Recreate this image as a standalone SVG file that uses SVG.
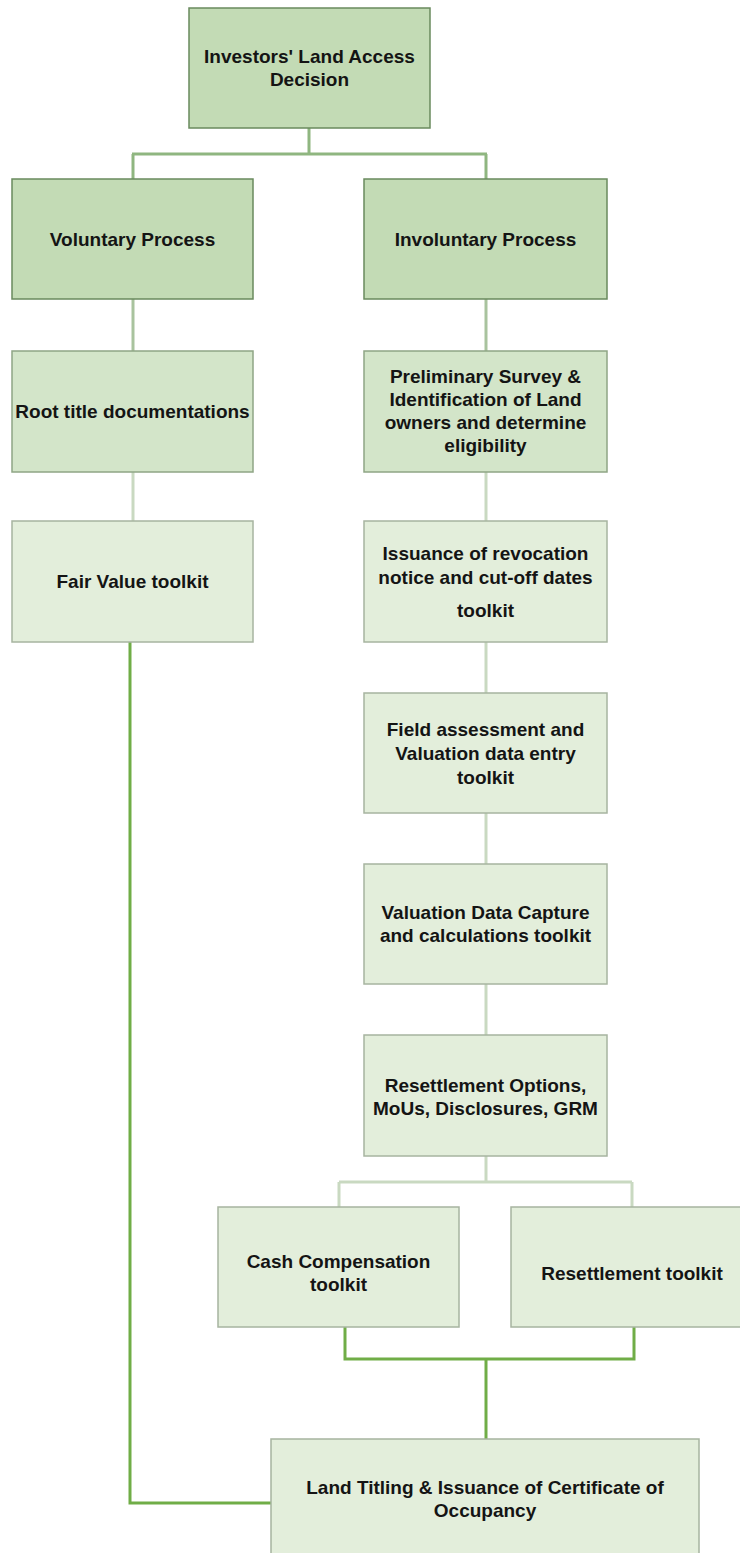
<svg xmlns="http://www.w3.org/2000/svg" width="740" height="1553" viewBox="0 0 740 1553">
<style>
  .n1 { fill: #c3dbb5; stroke: #6a8a5e; stroke-width: 1.5; }
  .n2 { fill: #d3e5c9; stroke: #8fa585; stroke-width: 1.5; }
  .n3 { fill: #e3eedb; stroke: #a7b4a0; stroke-width: 1.5; }
  .t { font-family: "Liberation Sans", Arial, sans-serif; font-weight: bold; font-size: 19px; fill: #141414; text-anchor: middle; }
  .c1 { fill: none; stroke: #8fb680; stroke-width: 3; }
  .c2 { fill: none; stroke: #a9c39e; stroke-width: 3; }
  .c3 { fill: none; stroke: #c9d9c1; stroke-width: 3; }
  .c4 { fill: none; stroke: #70ad47; stroke-width: 3; }
</style>
<rect width="740" height="1553" fill="#ffffff"/>
<g id="connectors">
  <path class="c1" d="M309 128 V154 M132 154 H487 M133 154 V179 M486 154 V179"/>
  <path class="c2" d="M133 299 V351 M486 299 V351"/>
  <path class="c3" d="M133 472 V521 M486 472 V521 M486 642 V693 M486 813 V864 M486 984 V1035"/>
  <path class="c3" d="M486 1156 V1182 M339 1182 H632 M339 1182 V1207 M632 1182 V1207"/>
  <path class="c4" d="M345 1327 V1359 H634 V1327 M486 1359 V1439"/>
  <path class="c4" d="M130 642 V1503 H271"/>
</g>
<g id="n-investors">
  <rect class="n1" x="189" y="8" width="241" height="120"/>
  <text class="t" x="309.5" y="63">Investors' Land Access</text>
  <text class="t" x="309.5" y="86">Decision</text>
</g>
<g id="n-voluntary">
  <rect class="n1" x="12" y="179" width="241" height="120"/>
  <text class="t" x="132.5" y="246">Voluntary Process</text>
</g>
<g id="n-involuntary">
  <rect class="n1" x="364" y="179" width="243" height="120"/>
  <text class="t" x="485.5" y="246">Involuntary Process</text>
</g>
<g id="n-root-title">
  <rect class="n2" x="12" y="351" width="241" height="121"/>
  <text class="t" x="132.5" y="418">Root title documentations</text>
</g>
<g id="n-preliminary">
  <rect class="n2" x="364" y="351" width="243" height="121"/>
  <text class="t" x="485.5" y="383">Preliminary Survey &amp;</text>
  <text class="t" x="485.5" y="406">Identification of Land</text>
  <text class="t" x="485.5" y="429">owners and determine</text>
  <text class="t" x="485.5" y="452">eligibility</text>
</g>
<g id="n-fair-value">
  <rect class="n3" x="12" y="521" width="241" height="121"/>
  <text class="t" x="132.5" y="588">Fair Value toolkit</text>
</g>
<g id="n-issuance">
  <rect class="n3" x="364" y="521" width="243" height="121"/>
  <text class="t" x="485.5" y="560">Issuance of revocation</text>
  <text class="t" x="485.5" y="584">notice and cut-off dates</text>
  <text class="t" x="485.5" y="617">toolkit</text>
</g>
<g id="n-field">
  <rect class="n3" x="364" y="693" width="243" height="120"/>
  <text class="t" x="485.5" y="736">Field assessment and</text>
  <text class="t" x="485.5" y="760">Valuation data entry</text>
  <text class="t" x="485.5" y="784">toolkit</text>
</g>
<g id="n-valuation">
  <rect class="n3" x="364" y="864" width="243" height="120"/>
  <text class="t" x="485.5" y="919">Valuation Data Capture</text>
  <text class="t" x="485.5" y="942">and calculations toolkit</text>
</g>
<g id="n-resettlement-options">
  <rect class="n3" x="364" y="1035" width="243" height="121"/>
  <text class="t" x="485.5" y="1092">Resettlement Options,</text>
  <text class="t" x="485.5" y="1115">MoUs, Disclosures, GRM</text>
</g>
<g id="n-cash">
  <rect class="n3" x="218" y="1207" width="241" height="120"/>
  <text class="t" x="338.5" y="1268">Cash Compensation</text>
  <text class="t" x="338.5" y="1291">toolkit</text>
</g>
<g id="n-resettlement">
  <rect class="n3" x="511" y="1207" width="242" height="120"/>
  <text class="t" x="632" y="1280">Resettlement toolkit</text>
</g>
<g id="n-land-titling">
  <rect class="n3" x="271" y="1439" width="428" height="121"/>
  <text class="t" x="485" y="1494">Land Titling &amp; Issuance of Certificate of</text>
  <text class="t" x="485" y="1517">Occupancy</text>
</g>
</svg>
